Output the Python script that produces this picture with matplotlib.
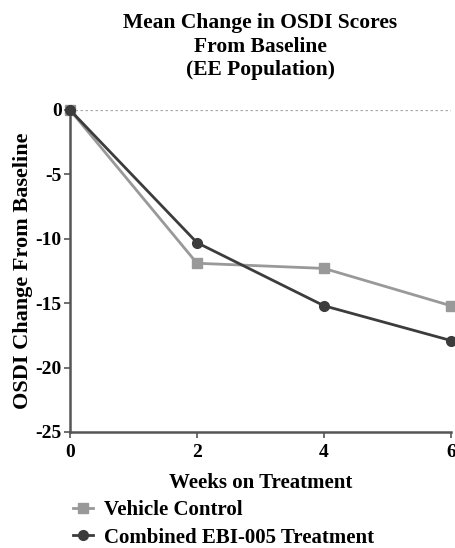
import matplotlib.pyplot as plt

plt.rcParams['font.family'] = 'Liberation Serif'
plt.rcParams['font.weight'] = 'bold'
plt.rcParams['axes.unicode_minus'] = False

weeks = [0, 2, 4, 6]
vehicle = [0, -11.9, -12.3, -15.2]
combined = [0, -10.3, -15.2, -17.9]

fig = plt.figure(figsize=(4.56, 5.48), dpi=100)
ax = fig.add_axes([0.1535, 0.2117, 0.8355, 0.5876])

ax.axhline(0, color='#aaaaaa', linestyle=(0, (2, 2)), linewidth=0.9, zorder=1)
ax.plot(weeks, vehicle, color='#999999', marker='s', markersize=7, linewidth=2,
        label='Vehicle Control', clip_on=False, zorder=3)
ax.plot(weeks, combined, color='#3c3c3c', marker='o', markersize=7, linewidth=2,
        label='Combined EBI-005 Treatment', clip_on=False, zorder=4)

ax.set_xlim(0, 6)
ax.set_ylim(-25, 0)
ax.set_xticks([0, 2, 4, 6])
ax.set_yticks([0, -5, -10, -15, -20, -25])
ax.tick_params(labelsize=14, width=1.2, length=4, color='#555555', pad=2)
ax.tick_params(axis='x', pad=5)
for lbl in ax.get_xticklabels() + ax.get_yticklabels():
    lbl.set_fontweight('bold')

for s in ['top', 'right']:
    ax.spines[s].set_visible(False)
for s in ['left', 'bottom']:
    ax.spines[s].set_linewidth(1.8)
    ax.spines[s].set_color('#555555')

ax.set_xlabel('Weeks on Treatment', fontsize=15, fontweight='bold', labelpad=8)
ax.set_ylabel('OSDI Change From Baseline', fontsize=16, fontweight='bold', labelpad=2)
ax.set_title('Mean Change in OSDI Scores\nFrom Baseline\n(EE Population)',
             fontsize=15.5, fontweight='bold', pad=25, linespacing=1.25)

ax.legend(loc='upper left', bbox_to_anchor=(-0.015, -0.186), frameon=False,
          handlelength=1.0, handletextpad=0.5, labelspacing=0.35,
          borderaxespad=0, prop={'weight': 'bold', 'size': 15})

fig.savefig('out.png', dpi=100)
